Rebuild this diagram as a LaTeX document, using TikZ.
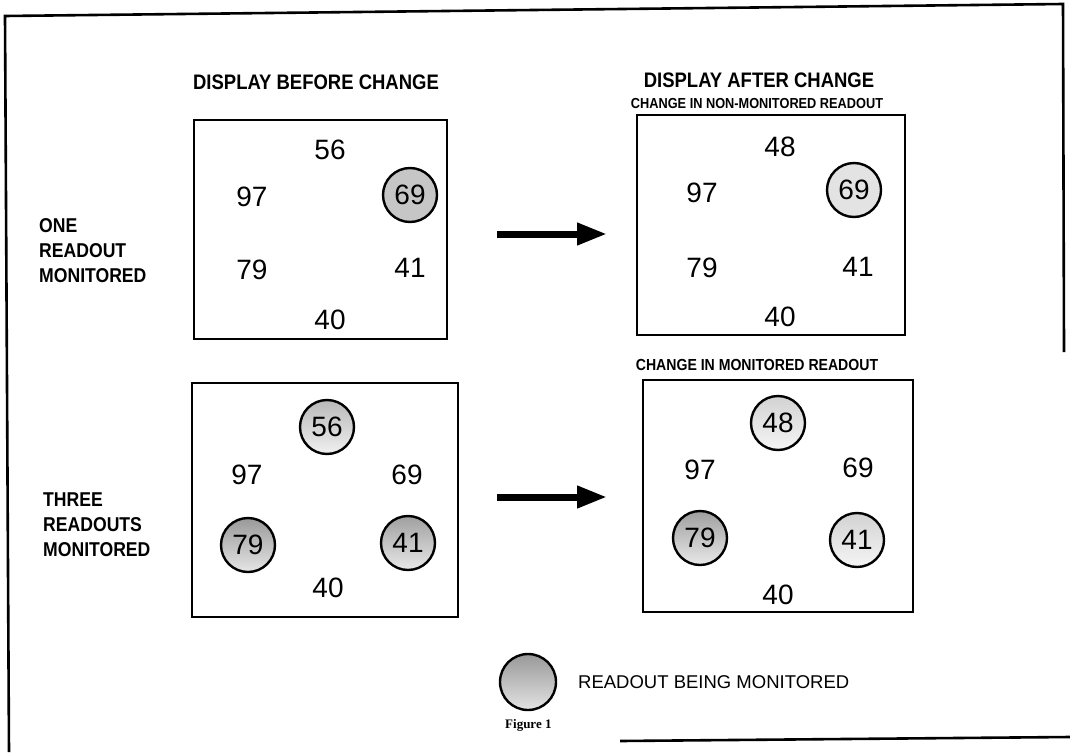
\documentclass[tikz,border=0pt]{standalone}
\usepackage{fontspec}
\setmainfont{Liberation Sans}
\newfontfamily\hdrfont[FakeStretch=0.88]{Liberation Sans}
\newfontfamily\figfont{Liberation Serif}
\usetikzlibrary{arrows.meta}
\begin{document}
\begin{tikzpicture}[x=1pt,y=-1pt,
  frame/.style={line width=2.6pt},
  panel/.style={draw, line width=2.6pt, inner sep=0pt},
  num/.style={font=\fontsize{28}{28}\selectfont, inner sep=0pt},
  mon/.style={num, circle, draw, line width=2.4pt, minimum size=54pt},
  hdr/.style={font=\hdrfont\bfseries\fontsize{21}{21}\selectfont, inner sep=0pt},
  subhdr/.style={font=\hdrfont\bfseries\fontsize{#1}{#1}\selectfont, inner sep=0pt},
  rowlbl/.style={font=\hdrfont\bfseries\fontsize{20}{25}\selectfont, align=left, anchor=west, inner sep=0pt},
  bigarrow/.style={line width=7pt, -{Triangle[length=30pt,width=21pt]}}
]
\useasboundingbox (0,0) rectangle (1070,752);
\fill[white] (0,0) rectangle (1070,752);
% outer frame
\draw[frame] (9,752) -- (5,16) -- (1063,4) -- (1064,352);
\draw[frame] (620,741) -- (1070,737);
% headings
\node[hdr] (hb) at (316,82) {DISPLAY BEFORE CHANGE};
\node[hdr] (ha) at (759,80) {DISPLAY AFTER CHANGE};
\node[subhdr=14.5] (h1) at (757,104) {CHANGE IN NON-MONITORED READOUT};
\node[subhdr=16] (h2) at (757,365) {CHANGE IN MONITORED READOUT};
% row labels
\node[rowlbl] (r1) at (39,251) {ONE\\READOUT\\MONITORED};
\node[rowlbl] (r2) at (43,525) {THREE\\READOUTS\\MONITORED};
% panels
\node[panel, minimum width=253pt, minimum height=219pt] (p1) at (320.5,229.5) {};
\node[panel, minimum width=268pt, minimum height=220pt] (p2) at (771,225) {};
\node[panel, minimum width=266pt, minimum height=234pt] (p3) at (325,500) {};
\node[panel, minimum width=270pt, minimum height=232pt] (p4) at (778,496) {};
% panel 1
\node[num] (a56) at (330,150) {56};
\node[num] (a97) at (252,197) {97};
\node[mon, fill=gray!45] (a69) at (410,195) {69};
\node[num] (a79) at (252,270) {79};
\node[num] (a41) at (410,268) {41};
\node[num] (a40) at (330,320) {40};
% panel 2
\node[num] (b48) at (780,147) {48};
\node[num] (b97) at (702,193) {97};
\node[mon, fill=gray!22] (b69) at (854,190) {69};
\node[num] (b79) at (702,268) {79};
\node[num] (b41) at (858,267) {41};
\node[num] (b40) at (780,317) {40};
% panel 3
\node[mon, top color=gray!55, bottom color=gray!12] (c56) at (327,427) {56};
\node[num] (c97) at (247,475) {97};
\node[num] (c69) at (407,475) {69};
\node[mon, top color=gray!80, bottom color=gray!20] (c79) at (248,545) {79};
\node[mon, top color=gray!75, bottom color=gray!18] (c41) at (408,543) {41};
\node[num] (c40) at (328,588) {40};
% panel 4
\node[mon, top color=gray!35, bottom color=gray!8] (d48) at (778,423) {48};
\node[num] (d97) at (700,470) {97};
\node[num] (d69) at (858,468) {69};
\node[mon, top color=gray!75, bottom color=gray!18] (d79) at (700,538) {79};
\node[mon, top color=gray!35, bottom color=gray!8] (d41) at (857,540) {41};
\node[num] (d40) at (778,595) {40};
% arrows
\coordinate (e1s) at (497,234);
\coordinate (e1e) at (607,234);
\coordinate (e2s) at (497,497);
\coordinate (e2e) at (607,497);
\draw[bigarrow] (e1s) -- (e1e);
\draw[bigarrow] (e2s) -- (e2e);
% legend
\node[circle, draw, line width=2.4pt, minimum size=56pt, top color=gray!80, bottom color=gray!22] (leg) at (528,682) {};
\node[font=\fontsize{18.5}{18.5}\selectfont, anchor=west, inner sep=0pt] (legt) at (578,682) {READOUT BEING MONITORED};
\node[font=\figfont\bfseries\fontsize{13}{13}\selectfont, anchor=west, inner sep=0pt] (fig) at (505,725) {Figure 1};
\end{tikzpicture}
\end{document}
